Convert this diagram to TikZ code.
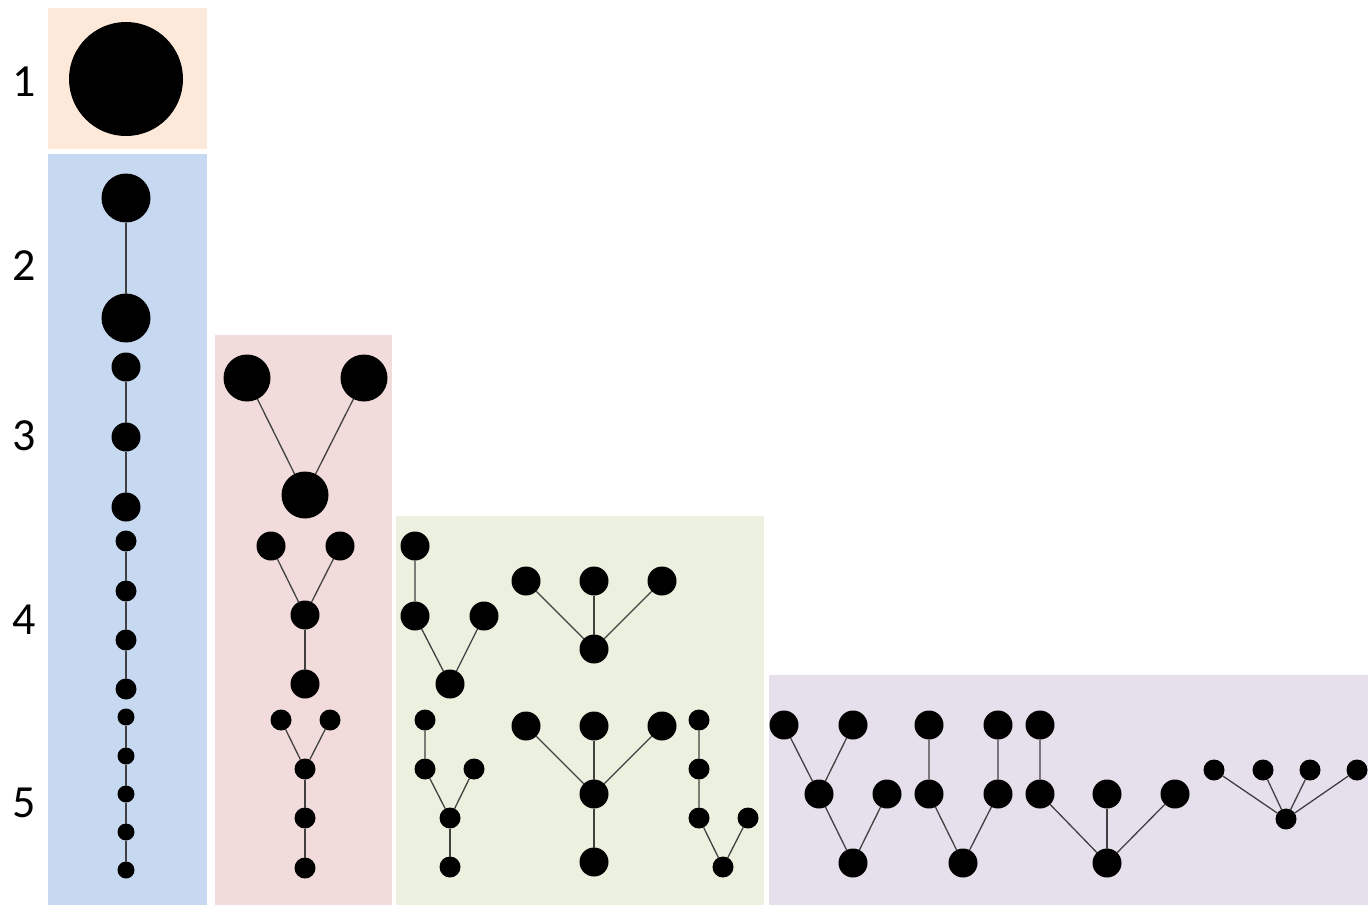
\documentclass[tikz,border=0pt]{standalone}
\usepackage{fontspec}
\setmainfont{Carlito}
\definecolor{cOrange}{RGB}{253,233,217}
\definecolor{cBlue}{RGB}{198,217,241}
\definecolor{cPink}{RGB}{242,220,219}
\definecolor{cGreen}{RGB}{235,241,222}
\definecolor{cPurple}{RGB}{229,224,236}
\definecolor{cEdge}{RGB}{64,64,64}
\begin{document}
\begin{tikzpicture}[x=1pt,y=-1pt,
  dot/.style={circle,fill=black,inner sep=0pt,outer sep=0pt},
  dA/.style={dot,minimum size=114pt},
  dB/.style={dot,minimum size=49pt},
  dBp/.style={dot,minimum size=47pt},
  dC/.style={dot,minimum size=29pt},
  dD/.style={dot,minimum size=21pt},
  dE/.style={dot,minimum size=17pt},
  edge/.style={draw=cEdge,line width=1.3pt},
  lvl/.style={font=\fontsize{46}{46}\selectfont,inner sep=0pt}]
\useasboundingbox (0,0) rectangle (1368,905);
% backgrounds
\fill[cOrange] (48,8) rectangle (207,149);
\fill[cBlue] (48,154) rectangle (207,905);
\fill[cPink] (215,335) rectangle (392,905);
\fill[cGreen] (396,516) rectangle (764,905);
\fill[cPurple] (769,675) rectangle (1368,905);
% level labels
\node[lvl] (L1) at (24,82) {1};
\node[lvl] (L2) at (24,266) {2};
\node[lvl] (L3) at (24,436) {3};
\node[lvl] (L4) at (24,620) {4};
\node[lvl] (L5) at (24,803) {5};
% level 1
\node[dA] (a1) at (126,79) {};
% blue column
\node[dB] (b21) at (126,198) {};
\node[dB] (b22) at (126,318) {};
\node[dC] (b31) at (126,367) {};
\node[dC] (b32) at (126,437) {};
\node[dC] (b33) at (126,507) {};
\node[dD] (b41) at (126,541) {};
\node[dD] (b42) at (126,591) {};
\node[dD] (b43) at (126,640) {};
\node[dD] (b44) at (126,689) {};
\node[dE] (b51) at (126,717) {};
\node[dE] (b52) at (126,756) {};
\node[dE] (b53) at (126,794) {};
\node[dE] (b54) at (126,832) {};
\node[dE] (b55) at (126,870) {};
\draw[edge] (b21) -- (b22);
\draw[edge] (b31) -- (b32) -- (b33);
\draw[edge] (b41) -- (b42) -- (b43) -- (b44);
\draw[edge] (b51) -- (b52) -- (b53) -- (b54) -- (b55);
% pink column
\node[dBp] (p31) at (247,378) {};
\node[dBp] (p32) at (364,378) {};
\node[dBp] (p33) at (305,495) {};
\draw[edge] (p31) -- (p33) -- (p32);
\node[dC] (p41) at (271,546) {};
\node[dC] (p42) at (340,546) {};
\node[dC] (p43) at (305,615) {};
\node[dC] (p44) at (305,684) {};
\draw[edge] (p41) -- (p43) -- (p42);
\draw[edge] (p43) -- (p44);
\node[dD] (p51) at (281,720) {};
\node[dD] (p52) at (330,720) {};
\node[dD] (p53) at (305,769) {};
\node[dD] (p54) at (305,818) {};
\node[dD] (p55) at (305,868) {};
\draw[edge] (p51) -- (p53) -- (p52);
\draw[edge] (p53) -- (p54) -- (p55);
% green column: level 4
\node[dC] (ga1) at (415,546) {};
\node[dC] (ga2) at (415,616) {};
\node[dC] (ga3) at (484,616) {};
\node[dC] (ga4) at (450,684) {};
\draw[edge] (ga1) -- (ga2) -- (ga4) -- (ga3);
\node[dC] (gb1) at (526,581) {};
\node[dC] (gb2) at (594,581) {};
\node[dC] (gb3) at (662,581) {};
\node[dC] (gb4) at (594,649) {};
\draw[edge] (gb1) -- (gb4);
\draw[edge] (gb2) -- (gb4);
\draw[edge] (gb3) -- (gb4);
% green column: level 5
\node[dD] (gc1) at (425,720) {};
\node[dD] (gc2) at (425,769) {};
\node[dD] (gc3) at (474,769) {};
\node[dD] (gc4) at (450,818) {};
\node[dD] (gc5) at (450,867) {};
\draw[edge] (gc1) -- (gc2) -- (gc4) -- (gc3);
\draw[edge] (gc4) -- (gc5);
\node[dC] (gd1) at (526,726) {};
\node[dC] (gd2) at (594,726) {};
\node[dC] (gd3) at (662,726) {};
\node[dC] (gd4) at (594,794) {};
\node[dC] (gd5) at (594,862) {};
\draw[edge] (gd1) -- (gd4);
\draw[edge] (gd2) -- (gd4);
\draw[edge] (gd3) -- (gd4);
\draw[edge] (gd4) -- (gd5);
\node[dD] (ge1) at (699,720) {};
\node[dD] (ge2) at (699,769) {};
\node[dD] (ge3) at (699,818) {};
\node[dD] (ge4) at (748,818) {};
\node[dD] (ge5) at (723,867) {};
\draw[edge] (ge1) -- (ge2) -- (ge3) -- (ge5) -- (ge4);
% purple column
\node[dC] (uf1) at (784,725) {};
\node[dC] (uf2) at (853,725) {};
\node[dC] (uf3) at (819,794) {};
\node[dC] (uf4) at (887,794) {};
\node[dC] (uf5) at (853,863) {};
\draw[edge] (uf1) -- (uf3) -- (uf2);
\draw[edge] (uf3) -- (uf5) -- (uf4);
\node[dC] (ug1) at (929,725) {};
\node[dC] (ug2) at (998,725) {};
\node[dC] (ug3) at (929,794) {};
\node[dC] (ug4) at (998,794) {};
\node[dC] (ug5) at (963,863) {};
\draw[edge] (ug1) -- (ug3) -- (ug5) -- (ug4) -- (ug2);
\node[dC] (uh1) at (1040,725) {};
\node[dC] (uh2) at (1040,794) {};
\node[dC] (uh3) at (1107,794) {};
\node[dC] (uh4) at (1175,794) {};
\node[dC] (uh5) at (1107,863) {};
\draw[edge] (uh1) -- (uh2) -- (uh5);
\draw[edge] (uh3) -- (uh5);
\draw[edge] (uh4) -- (uh5);
\node[dD] (ui1) at (1214,770) {};
\node[dD] (ui2) at (1263,770) {};
\node[dD] (ui3) at (1310,770) {};
\node[dD] (ui4) at (1357,770) {};
\node[dD] (ui5) at (1286,819) {};
\draw[edge] (ui1) -- (ui5);
\draw[edge] (ui2) -- (ui5);
\draw[edge] (ui3) -- (ui5);
\draw[edge] (ui4) -- (ui5);
\end{tikzpicture}
\end{document}
